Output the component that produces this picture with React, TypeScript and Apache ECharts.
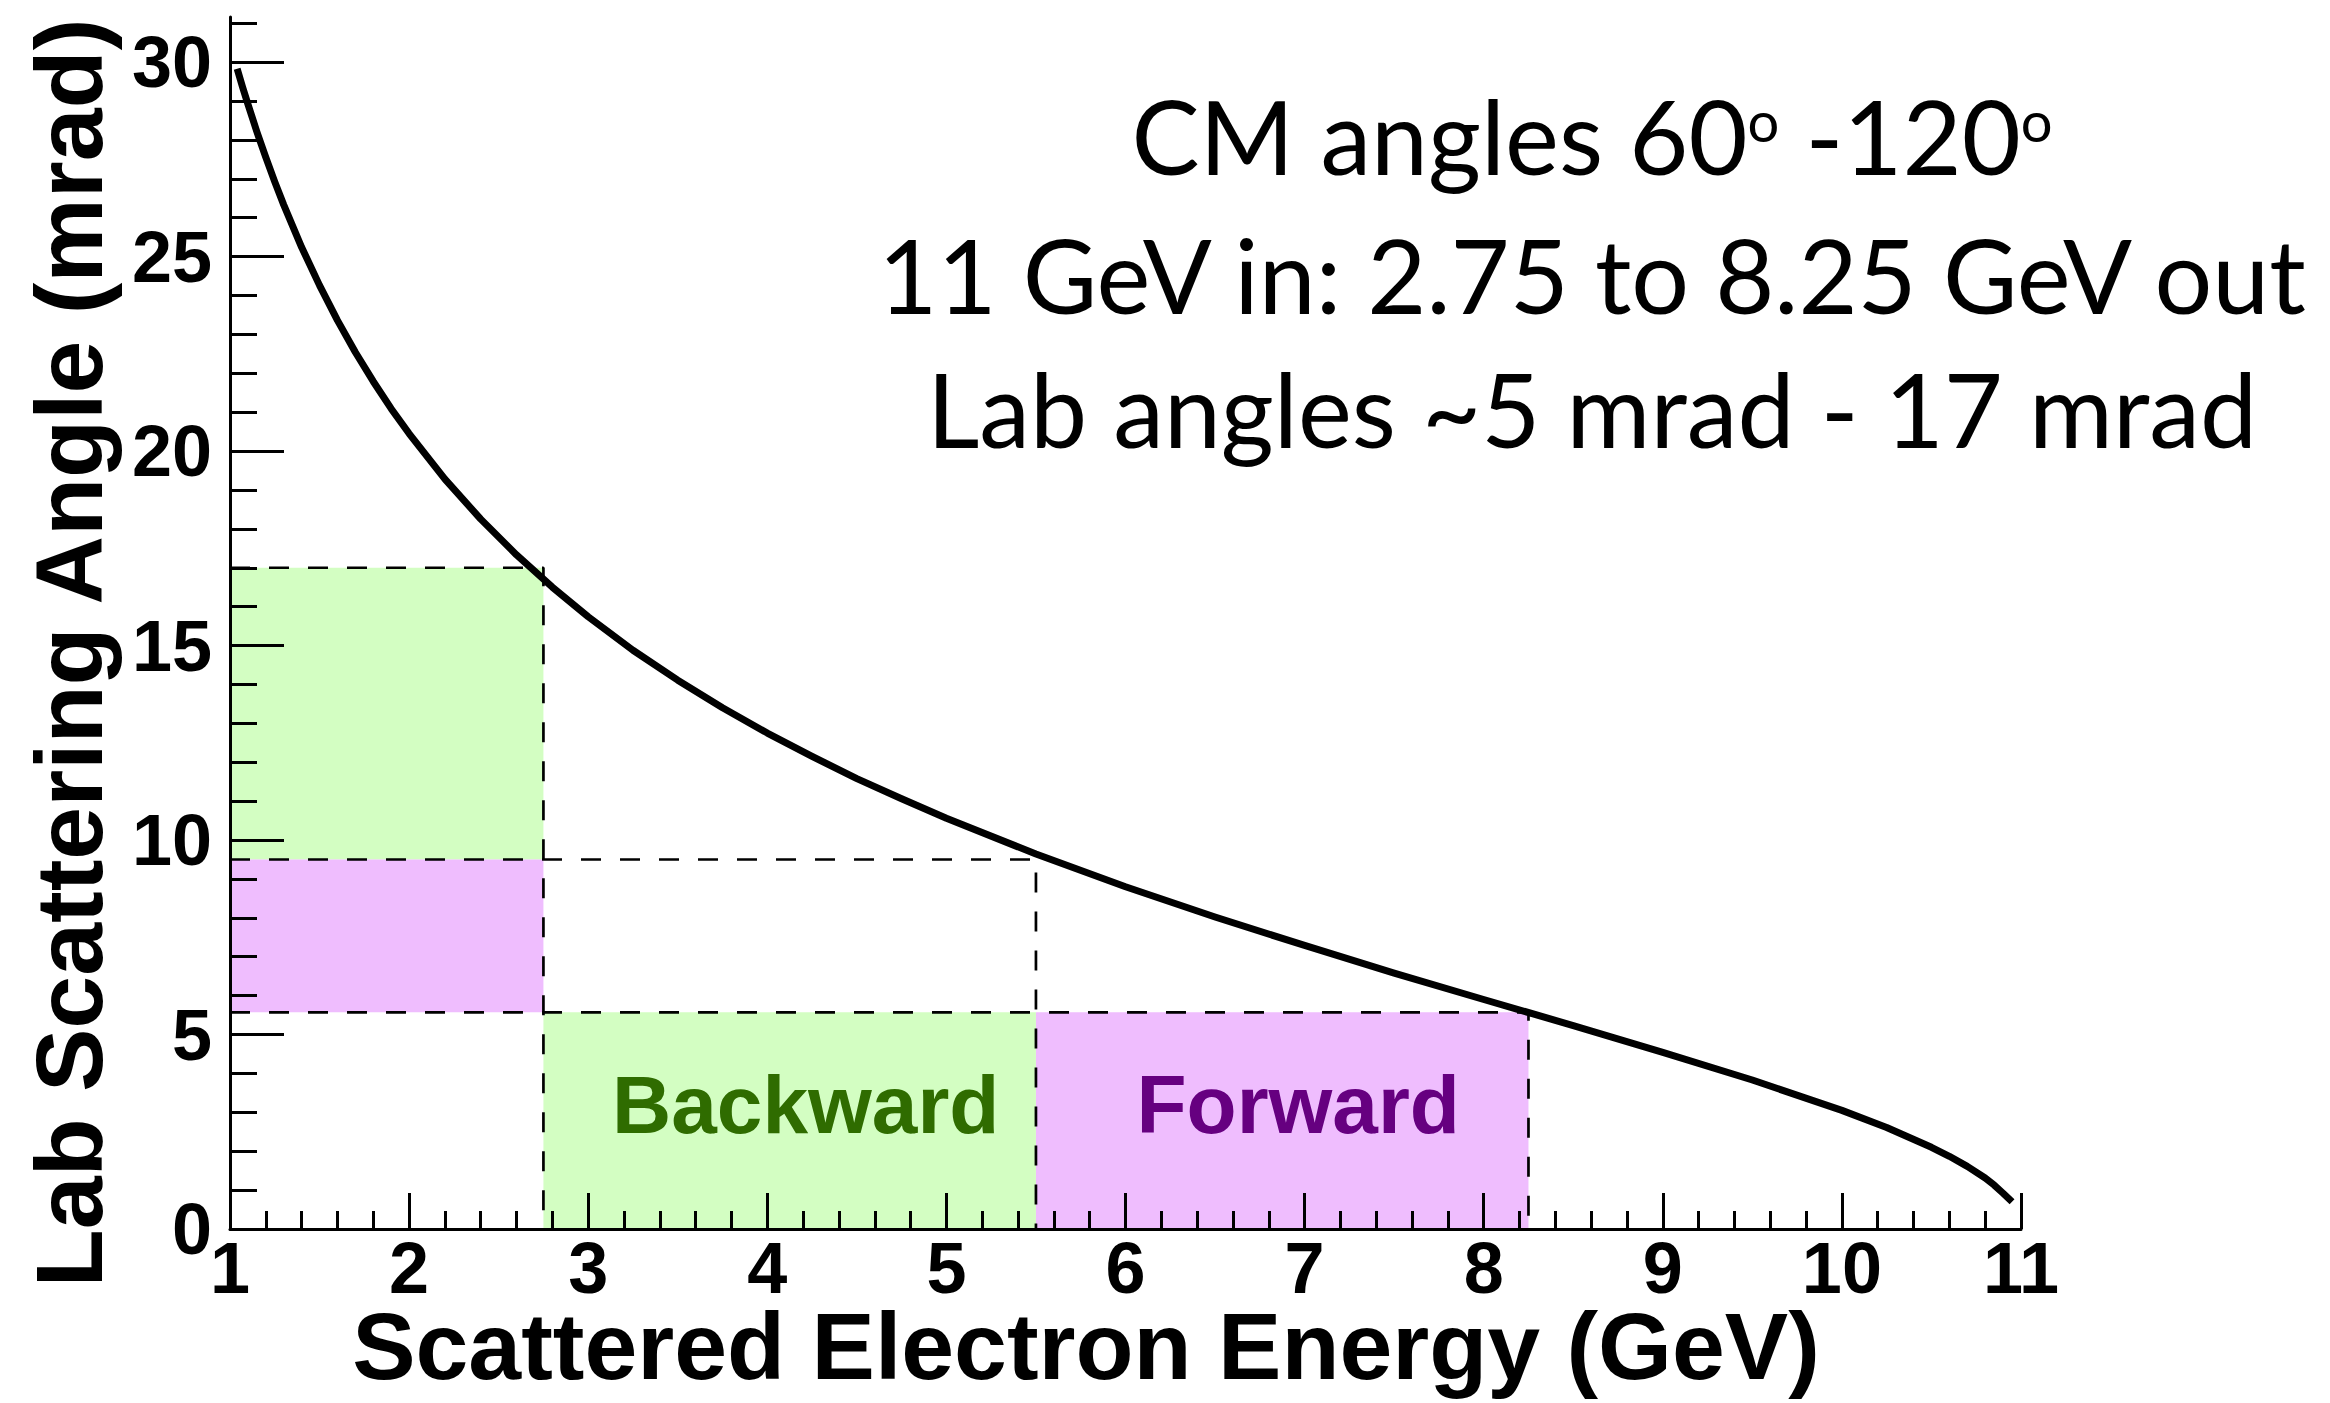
import React, { useEffect, useRef } from "react";
import * as echarts from "echarts";

// Scattered electron energy (GeV) and lab scattering angle (mrad)
const energyGeV = [1.04, 1.07, 1.1, 1.15, 1.2, 1.25, 1.3, 1.4, 1.5, 1.6, 1.7, 1.8, 1.9, 2.0, 2.2, 2.4, 2.6, 2.8, 3.0, 3.25, 3.5, 3.75, 4.0, 4.25, 4.5, 4.75, 5.0, 5.5, 6.0, 6.5, 7.0, 7.5, 8.0, 8.5, 9.0, 9.5, 10.0, 10.25, 10.5, 10.6, 10.7, 10.8, 10.85, 10.9, 10.95];
const labAngleMrad = [29.83, 29.36, 28.92, 28.21, 27.55, 26.92, 26.33, 25.24, 24.26, 23.36, 22.54, 21.79, 21.09, 20.45, 19.28, 18.25, 17.33, 16.5, 15.74, 14.88, 14.11, 13.4, 12.75, 12.15, 11.58, 11.06, 10.56, 9.64, 8.8, 8.02, 7.29, 6.58, 5.9, 5.23, 4.54, 3.83, 3.05, 2.61, 2.1, 1.87, 1.61, 1.31, 1.13, 0.92, 0.7];

// Shaded regions
const regionLabels = ["", "", "Backward", "Forward"];
const regionE0 = [1, 1, 2.75, 5.5];
const regionE1 = [2.75, 2.75, 5.5, 8.25];
const regionA0 = [9.5, 5.57, 0, 0];
const regionA1 = [17, 9.5, 5.57, 5.57];

// Dashed guide corners
const cutEnergy = [2.75, 5.5, 8.25];
const cutAngle = [17, 9.5, 5.57];

// Axes
const xMin = 1;
const xMax = 11;
const yMin = 0;
const yMax = 31.16;
const yMajorTicks = [0, 5, 10, 15, 20, 25, 30];
const yMinorTicks = [1, 2, 3, 4, 6, 7, 8, 9, 11, 12, 13, 14, 16, 17, 18, 19, 21, 22, 23, 24, 26, 27, 28, 29, 31];

const xTitle = "Scattered Electron Energy (GeV)";
const yTitle = "Lab Scattering Angle (mrad)";
const noteLines = [
  "{a|CM angles 60}{s|o}{a| -120}{s|o}",
  "{a|11 GeV in: 2.75 to 8.25 GeV out}",
  "{a|Lab angles ~5 mrad - 17 mrad}",
];

export default function App() {
  const ref = useRef<HTMLDivElement>(null);
  useEffect(() => {
    document.body.style.margin = "0";
    const chart = echarts.init(ref.current!, null, { renderer: "svg" });
    const boxFill = ["#d3fec2", "#efbdfe", "#d3fec2", "#efbdfe"];
    const labelFill = ["#000", "#000", "#2f6c00", "#660080"];
    const lineStyle = { color: "#000", width: 3 };
    const tickFont = {
      fontFamily: "Liberation Sans",
      fontWeight: "bold",
      fontSize: 72,
      color: "#000",
    };
    const noteRich = {
      a: { fontFamily: "Lato", fontSize: 102, lineHeight: 116, color: "#000" },
      s: { fontFamily: "Lato", fontSize: 56, color: "#000", padding: [0, 0, 30, 0] },
    };
    const noteY = [135, 274, 408];

    const dashedSeries = cutEnergy.map((e, i) => ({
      type: "line",
      data: [
        [xMin, cutAngle[i]],
        [e, cutAngle[i]],
        [e, yMin],
      ],
      symbol: "none",
      lineStyle: { color: "#000", width: 2.7, type: [20, 19] },
      z: 3,
      silent: true,
    }));

    const option: any = {
      animation: false,
      backgroundColor: "#ffffff",
      grid: { left: 230, right: 309, top: 17, bottom: 174, containLabel: false },
      xAxis: {
        type: "value",
        min: xMin,
        max: xMax,
        interval: 1,
        z: 10,
        axisLine: { show: true, onZero: false, lineStyle },
        axisTick: { show: true, inside: true, length: 36, lineStyle },
        minorTick: { show: true, splitNumber: 5, length: 18, lineStyle },
        splitLine: { show: false },
        axisLabel: { ...tickFont, lineHeight: 60, margin: 9 },
      },
      yAxis: [
        {
          type: "value",
          min: yMin,
          max: yMax,
          position: "left",
          z: 10,
          axisLine: { show: true, onZero: false, lineStyle },
          axisTick: { show: true, inside: true, length: 54, lineStyle, customValues: yMajorTicks },
          minorTick: { show: false },
          splitLine: { show: false },
          axisLabel: { ...tickFont, margin: 18, customValues: yMajorTicks },
        },
        {
          type: "value",
          min: yMin,
          max: yMax,
          position: "left",
          z: 10,
          axisLine: { show: false },
          axisTick: { show: true, inside: true, length: 27, lineStyle, customValues: yMinorTicks },
          minorTick: { show: false },
          splitLine: { show: false },
          axisLabel: { show: false },
        },
      ],
      series: [
        {
          type: "custom",
          z: 1,
          silent: true,
          data: regionE0.map((e0, i) => [e0, regionA0[i], regionE1[i], regionA1[i]]),
          encode: { x: [0, 2], y: [1, 3] },
          renderItem: (params: any, api: any) => {
            const i = params.dataIndex;
            const p0 = api.coord([api.value(0), api.value(1)]);
            const p1 = api.coord([api.value(2), api.value(3)]);
            const children: any[] = [
              {
                type: "rect",
                shape: { x: p0[0], y: p1[1], width: p1[0] - p0[0], height: p0[1] - p1[1] },
                style: { fill: boxFill[i] },
              },
            ];
            if (regionLabels[i]) {
              children.push({
                type: "text",
                x: (p0[0] + p1[0]) / 2 + 16,
                y: (p0[1] + p1[1]) / 2 - 16,
                style: {
                  text: regionLabels[i],
                  fill: labelFill[i],
                  fontFamily: "Liberation Sans",
                  fontWeight: "bold",
                  fontSize: 82,
                  align: "center",
                  verticalAlign: "middle",
                  textAlign: "center",
                  textVerticalAlign: "middle",
                },
              });
            }
            return { type: "group", children };
          },
        },
        ...dashedSeries,
        {
          type: "line",
          data: energyGeV.map((e, i) => [e, labAngleMrad[i]]),
          symbol: "none",
          smooth: false,
          lineStyle: { color: "#000", width: 7, join: "round", cap: "butt" },
          z: 5,
          silent: true,
        },
      ],
      graphic: [
        ...noteLines.map((t, i) => ({
          type: "text",
          x: 1592,
          y: noteY[i],
          style: {
            text: t,
            rich: noteRich,
            fill: "#000",
            align: "center",
            verticalAlign: "middle",
            textAlign: "center",
            textVerticalAlign: "middle",
          },
        })),
        {
          type: "text",
          x: 1086,
          y: 1346,
          style: {
            text: xTitle,
            fill: "#000",
            fontFamily: "Liberation Sans",
            fontWeight: "bold",
            fontSize: 95,
            lineHeight: 80,
            align: "center",
            verticalAlign: "middle",
            textAlign: "center",
            textVerticalAlign: "middle",
          },
        },
        {
          type: "text",
          x: 69,
          y: 653,
          rotation: Math.PI / 2,
          style: {
            text: yTitle,
            fill: "#000",
            fontFamily: "Liberation Sans",
            fontWeight: "bold",
            fontSize: 95,
            lineHeight: 80,
            align: "center",
            verticalAlign: "middle",
            textAlign: "center",
            textVerticalAlign: "middle",
          },
        },
      ],
    };
    chart.setOption(option);
    return () => chart.dispose();
  }, []);
  return <div ref={ref} style={{ width: 2330, height: 1403 }} />;
}
